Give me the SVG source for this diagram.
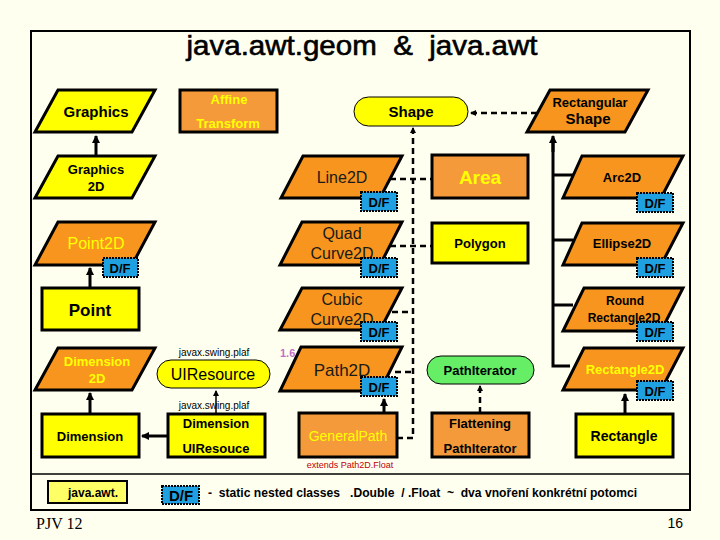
<svg xmlns="http://www.w3.org/2000/svg" width="720" height="540" viewBox="0 0 720 540">
<defs>
<marker id="ah" markerWidth="8" markerHeight="8" refX="7" refY="4" orient="auto" markerUnits="userSpaceOnUse"><path d="M0,0 L8,4 L0,8 Z" fill="#000"/></marker>
<marker id="ahs" markerWidth="6" markerHeight="6" refX="5" refY="3" orient="auto" markerUnits="userSpaceOnUse"><path d="M0,0 L6,3 L0,6 Z" fill="#000"/></marker>
</defs>
<style>
text{font-family:"Liberation Sans",Arial,sans-serif;text-anchor:middle}
.y{fill:#FFFF00;stroke:#000;stroke-width:3}
.o{fill:#F7951E;stroke:#000;stroke-width:3}
.or{fill:#F59A3A;stroke:#000;stroke-width:3}
.st{stroke:#000;stroke-width:1}
.df rect{fill:#1FA0E0;stroke:#000;stroke-width:2;stroke-dasharray:2 1}
.df text{font-size:13px;font-weight:bold;fill:#000}
.b{font-weight:bold}
.k{fill:#000}
.yt{fill:#FFFF00}
.pre{white-space:pre}
.solid{stroke:#000;stroke-width:3;fill:none}
.dash{stroke:#000;stroke-width:2.5;fill:none;stroke-dasharray:6 4}
</style>
<rect width="720" height="540" fill="#FFFFF0"/>
<rect x="31" y="31" width="659" height="479" fill="none" stroke="#000" stroke-width="2"/>
<line x1="31" y1="474" x2="690" y2="474" stroke="#000" stroke-width="1.5"/>
<text x="362" y="55" font-size="28" class="pre" fill="#000" stroke="#000" stroke-width="0.6" textLength="351" lengthAdjust="spacingAndGlyphs">java.awt.geom  &amp;  java.awt</text>

<g id="connectors">
<line class="solid" x1="96" y1="156" x2="96" y2="136" marker-end="url(#ah)"/>
<line class="solid" x1="90" y1="288" x2="90" y2="268" marker-end="url(#ah)"/>
<line class="solid" x1="90" y1="414" x2="90" y2="393" marker-end="url(#ah)"/>
<line class="solid" x1="168" y1="436" x2="142" y2="436" stroke-width="4" marker-end="url(#ah)"/>
<line x1="216" y1="414" x2="216" y2="391" stroke="#000" stroke-width="1.5" marker-end="url(#ahs)"/>
<line class="dash" x1="537" y1="113" x2="471" y2="113" marker-end="url(#ahs)"/>
<polyline class="dash" points="397,438 413,438 413,130"/>
<line x1="413" y1="134" x2="413" y2="128" stroke="#000" stroke-width="2" marker-end="url(#ahs)"/>
<line class="dash" x1="390" y1="179" x2="432" y2="179"/>
<line class="dash" x1="390" y1="246" x2="432" y2="246"/>
<line class="dash" x1="392" y1="312" x2="413" y2="312"/>
<line class="dash" x1="395" y1="372" x2="413" y2="372"/>
<line class="solid" x1="384" y1="413" x2="384" y2="399" marker-end="url(#ah)"/>
<line class="dash" x1="480" y1="413" x2="480" y2="390" stroke-width="2"/>
<line x1="480" y1="392" x2="480" y2="386" stroke="#000" stroke-width="2" marker-end="url(#ahs)"/>
<polyline class="solid" points="553,140 553,366 570,366"/>
<line class="solid" x1="553" y1="152" x2="553" y2="136" marker-end="url(#ah)"/>
<line class="solid" x1="553" y1="175" x2="573" y2="175"/>
<line class="solid" x1="553" y1="240" x2="573" y2="240"/>
<line class="solid" x1="553" y1="305" x2="573" y2="305"/>
<line class="solid" x1="625" y1="414" x2="625" y2="394" marker-end="url(#ah)"/>
</g>

<g id="graphics"><polygon class="y" points="58,90 155,90 132,132 35,132"/><text x="96" y="117" font-size="15" class="b k">Graphics</text></g>
<g id="affine"><rect class="or" x="180" y="90" width="97" height="42"/><text x="229" y="104" font-size="13" class="b yt">Affine</text><text x="228" y="128" font-size="13" class="b yt">Transform</text></g>
<g id="shape"><rect class="st" x="354" y="97" width="114" height="29" rx="14.5" fill="#FFFF00"/><text x="411" y="117" font-size="15" class="b k">Shape</text></g>
<g id="rectangularshape"><polygon class="o" points="550,90 648,90 625,132 527,132"/><text x="590" y="107" font-size="13" class="b k">Rectangular</text><text x="588" y="124" font-size="15" class="b k">Shape</text></g>

<g id="graphics2d"><polygon class="y" points="58,156 155,156 132,198 35,198"/><text x="96" y="174" font-size="13" class="b k">Graphics</text><text x="96" y="191" font-size="13" class="b k">2D</text></g>
<g id="point2d"><polygon class="o" points="58,222 155,222 132,265 35,265"/><text x="96" y="249" font-size="16" class="yt">Point2D</text></g>
<g id="point"><rect class="y" x="42" y="288" width="97" height="42"/><text x="90" y="316" font-size="17" class="b k">Point</text></g>
<g id="dimension2d"><polygon class="o" points="58,348 155,348 132,390 35,390"/><text x="97" y="366" font-size="13" class="b yt">Dimension</text><text x="97" y="383" font-size="13" class="b yt">2D</text></g>
<g id="dimension"><rect class="y" x="42" y="414" width="97" height="43"/><text x="90" y="441" font-size="13" class="b k">Dimension</text></g>
<g id="uiresource"><text x="214" y="356" font-size="10" fill="#000">javax.swing.plaf</text><rect class="st" x="157" y="360" width="113" height="28" rx="14" fill="#FFFF00"/><text x="213" y="380" font-size="16" class="k">UIResource</text></g>
<g id="dimensionuiresouce"><text x="214" y="409" font-size="10" fill="#000">javax.swing.plaf</text><rect class="y" x="168" y="414" width="97" height="43"/><text x="216" y="428" font-size="13" class="b k">Dimension</text><text x="216" y="453" font-size="13" class="b k">UIResouce</text></g>

<g id="line2d"><polygon class="o" points="303,156 402,156 380,198 281,198"/><text x="342" y="183" font-size="16" fill="#1a1a1a">Line2D</text></g>
<g id="quadcurve2d"><polygon class="o" points="302,222 402,222 380,265 280,265"/><text x="342" y="239" font-size="16" fill="#1a1a1a">Quad</text><text x="342" y="259" font-size="16" fill="#1a1a1a">Curve2D</text></g>
<g id="cubiccurve2d"><polygon class="o" points="302,288 402,288 380,330 280,330"/><text x="342" y="305" font-size="16" fill="#1a1a1a">Cubic</text><text x="342" y="325" font-size="16" fill="#1a1a1a">Curve2D</text></g>
<g id="path2d"><polygon class="o" points="301,347 402,347 380,391 280,391"/><text x="342" y="376" font-size="17" fill="#1a1a1a">Path2D</text><text x="280" y="357" font-size="11" font-weight="bold" fill="#C070C8" style="text-anchor:start">1.6</text></g>
<g id="generalpath"><rect class="or" x="299" y="413" width="98" height="44"/><text x="348" y="441" font-size="14" class="yt">GeneralPath</text><text x="350" y="468" font-size="9" fill="#C00000">extends Path2D.Float</text></g>

<g id="area"><rect class="or" x="432" y="155" width="96" height="43"/><text x="480" y="184" font-size="19" class="b yt">Area</text></g>
<g id="polygon"><rect class="y" x="432" y="223" width="96" height="40"/><text x="480" y="248" font-size="13" class="b k">Polygon</text></g>
<g id="pathiterator"><rect class="st" x="427" y="356" width="107" height="28" rx="14" fill="#66EE66"/><text x="480" y="375" font-size="13" class="b k">PathIterator</text></g>
<g id="flattening"><rect class="or" x="432" y="413" width="97" height="44"/><text x="480" y="428" font-size="13" class="b k">Flattening</text><text x="480" y="453" font-size="13" class="b k">PathIterator</text></g>

<g id="arc2d"><polygon class="o" points="582,156 683,156 661,198 563,198"/><text x="622" y="182" font-size="13" class="b k">Arc2D</text></g>
<g id="ellipse2d"><polygon class="o" points="582,223 683,223 661,265 563,265"/><text x="622" y="248" font-size="13" class="b k">Ellipse2D</text></g>
<g id="roundrectangle2d"><polygon class="o" points="584,288 683,288 661,331 563,331"/><text x="625" y="305" font-size="12" class="b k">Round</text><text x="624" y="322" font-size="12" class="b k">Rectangle2D</text></g>
<g id="rectangle2d"><polygon class="o" points="584,348 683,348 661,390 563,390"/><text x="625" y="374" font-size="13" class="b yt">Rectangle2D</text></g>
<g id="rectangle"><rect class="y" x="576" y="414" width="97" height="43"/><text x="624" y="441" font-size="14" class="b k">Rectangle</text></g>

<g id="df-badges">
<g class="df"><rect x="103" y="258" width="35" height="19"/><text x="120" y="273">D/F</text></g>
<g class="df"><rect x="361" y="192" width="36" height="19"/><text x="379" y="207">D/F</text></g>
<g class="df"><rect x="361" y="258" width="36" height="19"/><text x="379" y="273">D/F</text></g>
<g class="df"><rect x="361" y="322" width="36" height="19"/><text x="379" y="337">D/F</text></g>
<g class="df"><rect x="361" y="377" width="36" height="19"/><text x="379" y="392">D/F</text></g>
<g class="df"><rect x="637" y="193" width="36" height="19"/><text x="655" y="208">D/F</text></g>
<g class="df"><rect x="637" y="258" width="36" height="19"/><text x="655" y="273">D/F</text></g>
<g class="df"><rect x="637" y="322" width="36" height="19"/><text x="655" y="337">D/F</text></g>
<g class="df"><rect x="637" y="381" width="36" height="19"/><text x="655" y="396">D/F</text></g>
</g>

<g id="legend">
<rect x="48" y="481" width="79" height="22" fill="#FFFF66" stroke="#000" stroke-width="2"/>
<text x="68" y="497" font-size="12" class="b k" style="text-anchor:start">java.awt.</text>
<g class="df"><rect x="162" y="486" width="37" height="18"/><text x="181" y="501" style="font-size:15px">D/F</text></g>
<text x="208" y="497" font-size="12" class="b k pre" style="text-anchor:start" textLength="429" lengthAdjust="spacingAndGlyphs">-  static nested classes   .Double  / .Float  ~  dva vnoření konkrétní potomci</text>
</g>
<text x="36" y="529" font-size="16" style="font-family:'Liberation Serif','Times New Roman',serif;text-anchor:start" fill="#000">PJV 12</text>
<text x="683" y="528" font-size="14" style="text-anchor:end" fill="#000">16</text>
</svg>
